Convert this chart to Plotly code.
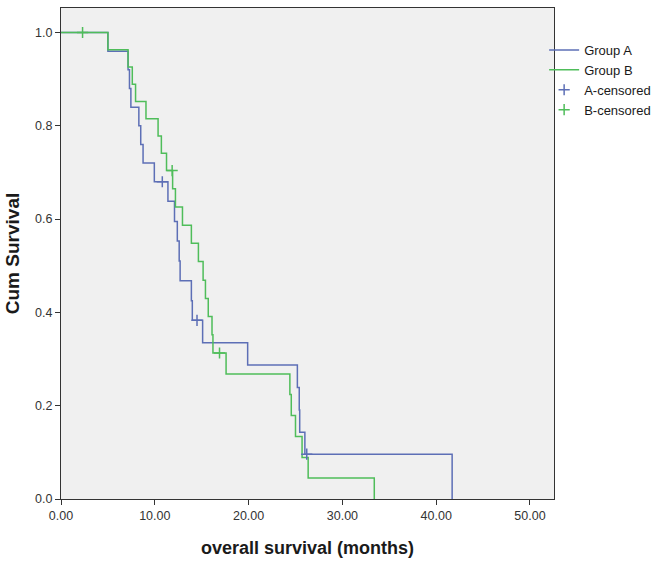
import plotly.graph_objects as go

# Group A (blue) Kaplan-Meier steps
time_a = [0, 5.0, 7.15, 7.3, 7.45, 8.3, 8.5, 8.75, 9.95, 11.4, 12.1, 12.4, 12.6, 12.7,
          13.9, 14.0, 15.1, 19.9, 25.2, 25.4, 25.45, 26.0, 41.7]
surv_a = [1.0, 0.96, 0.92, 0.88, 0.84, 0.80, 0.76, 0.72, 0.68, 0.638, 0.595, 0.553, 0.51, 0.468,
          0.425, 0.383, 0.335, 0.287, 0.239, 0.191, 0.143, 0.096, 0.0]
cens_time_a = [10.8, 14.5, 26.2]
cens_surv_a = [0.68, 0.383, 0.096]

# Group B (green) Kaplan-Meier steps
time_b = [0, 5.0, 7.15, 7.6, 7.95, 9.06, 10.35, 10.7, 11.25, 11.9, 12.2, 12.95, 13.9, 14.65,
          15.15, 15.4, 15.7, 16.1, 16.2, 17.6, 24.4, 24.55, 25.0, 25.7, 26.35, 33.4]
surv_b = [1.0, 0.963, 0.926, 0.889, 0.852, 0.815, 0.778, 0.741, 0.704, 0.665, 0.626, 0.587, 0.548, 0.509,
          0.469, 0.430, 0.391, 0.352, 0.313, 0.268, 0.224, 0.179, 0.134, 0.089, 0.045, 0.0]
cens_time_b = [2.3, 11.85, 16.9]
cens_surv_b = [1.0, 0.704, 0.313]

x_ticks = [0, 10, 20, 30, 40, 50]
y_ticks = [0.0, 0.2, 0.4, 0.6, 0.8, 1.0]

blue = "#5d6fb6"
green = "#4fbd5a"
font = "Liberation Sans, Arial, sans-serif"

fig = go.Figure()
fig.add_trace(go.Scatter(x=time_a, y=surv_a, mode="lines", line_shape="hv",
                         line=dict(color=blue, width=1.5), name="Group A"))
fig.add_trace(go.Scatter(x=time_b, y=surv_b, mode="lines", line_shape="hv",
                         line=dict(color=green, width=1.5), name="Group B"))
fig.add_trace(go.Scatter(x=cens_time_a, y=cens_surv_a, mode="markers", name="A-censored",
                         marker=dict(symbol="cross-thin", size=8, color=blue,
                                     line=dict(color=blue, width=1.5))))
fig.add_trace(go.Scatter(x=cens_time_b, y=cens_surv_b, mode="markers", name="B-censored",
                         marker=dict(symbol="cross-thin", size=8, color=green,
                                     line=dict(color=green, width=1.5))))

fig.update_layout(
    width=661, height=564,
    margin=dict(l=61, r=107, t=8, b=65, autoexpand=False),
    paper_bgcolor="white",
    plot_bgcolor="#f0f0f0",
    font=dict(family=font, size=12.5, color="#333333"),
    showlegend=True,
    legend=dict(x=0.98, y=0.945, xanchor="left", yanchor="top",
                bgcolor="rgba(0,0,0,0)", font=dict(size=13, color="#1a1a1a"),
                tracegroupgap=0, itemwidth=30),
    xaxis=dict(range=[0, 52.56], tickvals=x_ticks, tickformat=".2f",
               ticks="outside", ticklen=5, tickcolor="#333333",
               showline=True, linecolor="#333333", linewidth=1, mirror=True,
               showgrid=False, zeroline=False, automargin=False,
               title=dict(text="<b>overall survival (months)</b>",
                          font=dict(size=18, color="#1a1a1a"), standoff=19)),
    yaxis=dict(range=[0, 1.0525], tickvals=y_ticks, tickformat=".1f",
               ticks="outside", ticklen=5, tickcolor="#333333",
               showline=True, linecolor="#333333", linewidth=1, mirror=True,
               showgrid=False, zeroline=False, automargin=False,
               title=dict(text="<b>Cum Survival</b>",
                          font=dict(size=19, color="#1a1a1a"), standoff=10)),
)

fig.write_html("out.html", config={"displayModeBar": False},
               post_script="document.body.style.margin='0';")
